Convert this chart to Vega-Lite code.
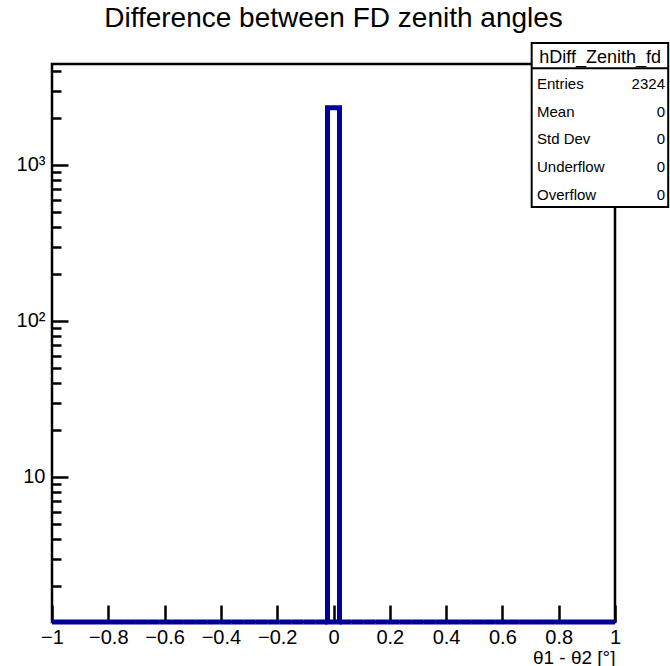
{
  "$schema": "https://vega.github.io/schema/vega-lite/v6.json",
  "width": 563,
  "height": 558,
  "autosize": {"type": "none"},
  "padding": {"left": 52, "top": 64, "right": 55, "bottom": 44},
  "background": "white",
  "config": {
    "view": {"stroke": "black", "strokeWidth": 2.5},
    "font": "Liberation Sans"
  },
  "title": {
    "text": "Difference between FD zenith angles",
    "font": "Liberation Sans",
    "fontSize": 28,
    "fontWeight": "normal",
    "color": "black",
    "anchor": "middle",
    "baseline": "alphabetic",
    "offset": 6,
    "dy": 19
  },
  "resolve": {"scale": {"y": "independent"}, "axis": {"y": "independent"}},
  "layer": [
    {
      "data": {
        "values": [
          {"bin_start": -1.0, "bin_end": -0.957447, "count": 0},
          {"bin_start": -0.957447, "bin_end": -0.914894, "count": 0},
          {"bin_start": -0.914894, "bin_end": -0.87234, "count": 0},
          {"bin_start": -0.87234, "bin_end": -0.829787, "count": 0},
          {"bin_start": -0.829787, "bin_end": -0.787234, "count": 0},
          {"bin_start": -0.787234, "bin_end": -0.744681, "count": 0},
          {"bin_start": -0.744681, "bin_end": -0.702128, "count": 0},
          {"bin_start": -0.702128, "bin_end": -0.659574, "count": 0},
          {"bin_start": -0.659574, "bin_end": -0.617021, "count": 0},
          {"bin_start": -0.617021, "bin_end": -0.574468, "count": 0},
          {"bin_start": -0.574468, "bin_end": -0.531915, "count": 0},
          {"bin_start": -0.531915, "bin_end": -0.489362, "count": 0},
          {"bin_start": -0.489362, "bin_end": -0.446809, "count": 0},
          {"bin_start": -0.446809, "bin_end": -0.404255, "count": 0},
          {"bin_start": -0.404255, "bin_end": -0.361702, "count": 0},
          {"bin_start": -0.361702, "bin_end": -0.319149, "count": 0},
          {"bin_start": -0.319149, "bin_end": -0.276596, "count": 0},
          {"bin_start": -0.276596, "bin_end": -0.234043, "count": 0},
          {"bin_start": -0.234043, "bin_end": -0.191489, "count": 0},
          {"bin_start": -0.191489, "bin_end": -0.148936, "count": 0},
          {"bin_start": -0.148936, "bin_end": -0.106383, "count": 0},
          {"bin_start": -0.106383, "bin_end": -0.06383, "count": 0},
          {"bin_start": -0.06383, "bin_end": -0.021277, "count": 0},
          {"bin_start": -0.021277, "bin_end": 0.021277, "count": 2324},
          {"bin_start": 0.021277, "bin_end": 0.06383, "count": 0},
          {"bin_start": 0.06383, "bin_end": 0.106383, "count": 0},
          {"bin_start": 0.106383, "bin_end": 0.148936, "count": 0},
          {"bin_start": 0.148936, "bin_end": 0.191489, "count": 0},
          {"bin_start": 0.191489, "bin_end": 0.234043, "count": 0},
          {"bin_start": 0.234043, "bin_end": 0.276596, "count": 0},
          {"bin_start": 0.276596, "bin_end": 0.319149, "count": 0},
          {"bin_start": 0.319149, "bin_end": 0.361702, "count": 0},
          {"bin_start": 0.361702, "bin_end": 0.404255, "count": 0},
          {"bin_start": 0.404255, "bin_end": 0.446809, "count": 0},
          {"bin_start": 0.446809, "bin_end": 0.489362, "count": 0},
          {"bin_start": 0.489362, "bin_end": 0.531915, "count": 0},
          {"bin_start": 0.531915, "bin_end": 0.574468, "count": 0},
          {"bin_start": 0.574468, "bin_end": 0.617021, "count": 0},
          {"bin_start": 0.617021, "bin_end": 0.659574, "count": 0},
          {"bin_start": 0.659574, "bin_end": 0.702128, "count": 0},
          {"bin_start": 0.702128, "bin_end": 0.744681, "count": 0},
          {"bin_start": 0.744681, "bin_end": 0.787234, "count": 0},
          {"bin_start": 0.787234, "bin_end": 0.829787, "count": 0},
          {"bin_start": 0.829787, "bin_end": 0.87234, "count": 0},
          {"bin_start": 0.87234, "bin_end": 0.914894, "count": 0},
          {"bin_start": 0.914894, "bin_end": 0.957447, "count": 0},
          {"bin_start": 0.957447, "bin_end": 1.0, "count": 0}
        ]
      },
      "mark": {"type": "rect", "filled": false, "color": "#000099", "strokeWidth": 5, "invalid": "show", "strokeJoin": "miter"},
      "encoding": {
        "x": {
          "field": "bin_start",
          "type": "quantitative",
          "scale": {"domain": [-1, 1], "nice": false, "zero": false},
          "axis": {
            "orient": "bottom",
            "values": [-1, -0.95, -0.9, -0.85, -0.8, -0.75, -0.7, -0.65, -0.6, -0.55, -0.5, -0.45, -0.4, -0.35, -0.3, -0.25, -0.2, -0.15, -0.1, -0.05, 0, 0.05, 0.1, 0.15, 0.2, 0.25, 0.3, 0.35, 0.4, 0.45, 0.5, 0.55, 0.6, 0.65, 0.7, 0.75, 0.8, 0.85, 0.9, 0.95, 1],
            "domain": false,
            "grid": false,
            "tickColor": "black",
            "tickWidth": 2.5,
            "tickSize": {"condition": {"test": "abs(datum.value*5 - round(datum.value*5)) < 0.001", "value": -17}, "value": -9},
            "labelExpr": "abs(datum.value*5 - round(datum.value*5)) < 0.001 ? format(datum.value, '.1~f') : ''",
            "labelFont": "Liberation Sans",
            "labelFontSize": 20,
            "labelColor": "black",
            "labelPadding": 22,
            "labelOverlap": false,
            "labelFlush": false,
            "labelBound": false,
            "title": "θ1 - θ2 [°]",
            "titleFont": "Liberation Sans",
            "titleFontSize": 19,
            "titleFontWeight": "normal",
            "titleColor": "black",
            "titleAnchor": "end",
            "titlePadding": 1
          }
        },
        "x2": {"field": "bin_end"},
        "y": {
          "field": "count",
          "type": "quantitative",
          "scale": {"type": "log", "domain": [1.176, 4436], "nice": false, "clamp": true},
          "axis": {
            "orient": "left",
            "values": [2, 3, 4, 5, 6, 7, 8, 9, 10, 20, 30, 40, 50, 60, 70, 80, 90, 100, 200, 300, 400, 500, 600, 700, 800, 900, 1000, 2000, 3000, 4000],
            "domain": false,
            "grid": false,
            "tickColor": "black",
            "tickWidth": 2.5,
            "tickSize": {"condition": {"test": "datum.value == 10 || datum.value == 100 || datum.value == 1000", "value": -16}, "value": -9},
            "labelExpr": "datum.value == 10 ? '10' : datum.value == 100 ? '10²' : datum.value == 1000 ? '10³' : ''",
            "labelFont": "Liberation Sans",
            "labelFontSize": 20,
            "labelColor": "black",
            "labelPadding": 23,
            "labelOverlap": false,
            "labelFlush": false,
            "labelBound": false,
            "title": null
          }
        },
        "y2": {"datum": 1.176}
      }
    },
    {
      "data": {
        "values": [
          {"name": "hDiff_Zenith_fd", "labels": ["Entries", "Mean", "Std Dev", "Underflow", "Overflow"], "vals": ["2324", "0", "0", "0", "0"]}
        ]
      },
      "resolve": {"scale": {"y": "shared"}},
      "layer": [
        {
          "mark": {"type": "rect", "fill": "white", "stroke": "black", "strokeWidth": 2},
          "encoding": {
            "x": {"datum": 0.704, "type": "quantitative"},
            "x2": {"datum": 1.189},
            "y": {"datum": 6047, "type": "quantitative", "scale": {"type": "log", "domain": [1.176, 4436], "nice": false}, "axis": null},
            "y2": {"datum": 537.4}
          }
        },
        {
          "mark": {"type": "rule", "stroke": "black", "strokeWidth": 2},
          "encoding": {
            "x": {"datum": 0.704, "type": "quantitative"},
            "x2": {"datum": 1.189},
            "y": {"datum": 4163, "type": "quantitative", "scale": {"type": "log", "domain": [1.176, 4436], "nice": false}, "axis": null}
          }
        },
        {
          "mark": {"type": "text", "font": "Liberation Sans", "fontSize": 18, "align": "center", "baseline": "alphabetic", "color": "black"},
          "encoding": {
            "text": {"field": "name", "type": "nominal"},
            "x": {"datum": 0.947, "type": "quantitative"},
            "y": {"datum": 4522, "type": "quantitative", "scale": {"type": "log", "domain": [1.176, 4436], "nice": false}, "axis": null}
          }
        },
        {
          "mark": {"type": "text", "lineHeight": 27.7, "font": "Liberation Sans", "fontSize": 15, "align": "left", "baseline": "alphabetic", "color": "black"},
          "encoding": {
            "text": {"field": "labels", "type": "nominal"},
            "x": {"datum": 0.7229, "type": "quantitative"},
            "y": {"datum": 3067, "type": "quantitative", "scale": {"type": "log", "domain": [1.176, 4436], "nice": false}, "axis": null}
          }
        },
        {
          "mark": {"type": "text", "lineHeight": 27.7, "font": "Liberation Sans", "fontSize": 15, "align": "right", "baseline": "alphabetic", "color": "black"},
          "encoding": {
            "text": {"field": "vals", "type": "nominal"},
            "x": {"datum": 1.1776, "type": "quantitative"},
            "y": {"datum": 3067, "type": "quantitative", "scale": {"type": "log", "domain": [1.176, 4436], "nice": false}, "axis": null}
          }
        }
      ]
    }
  ]
}
